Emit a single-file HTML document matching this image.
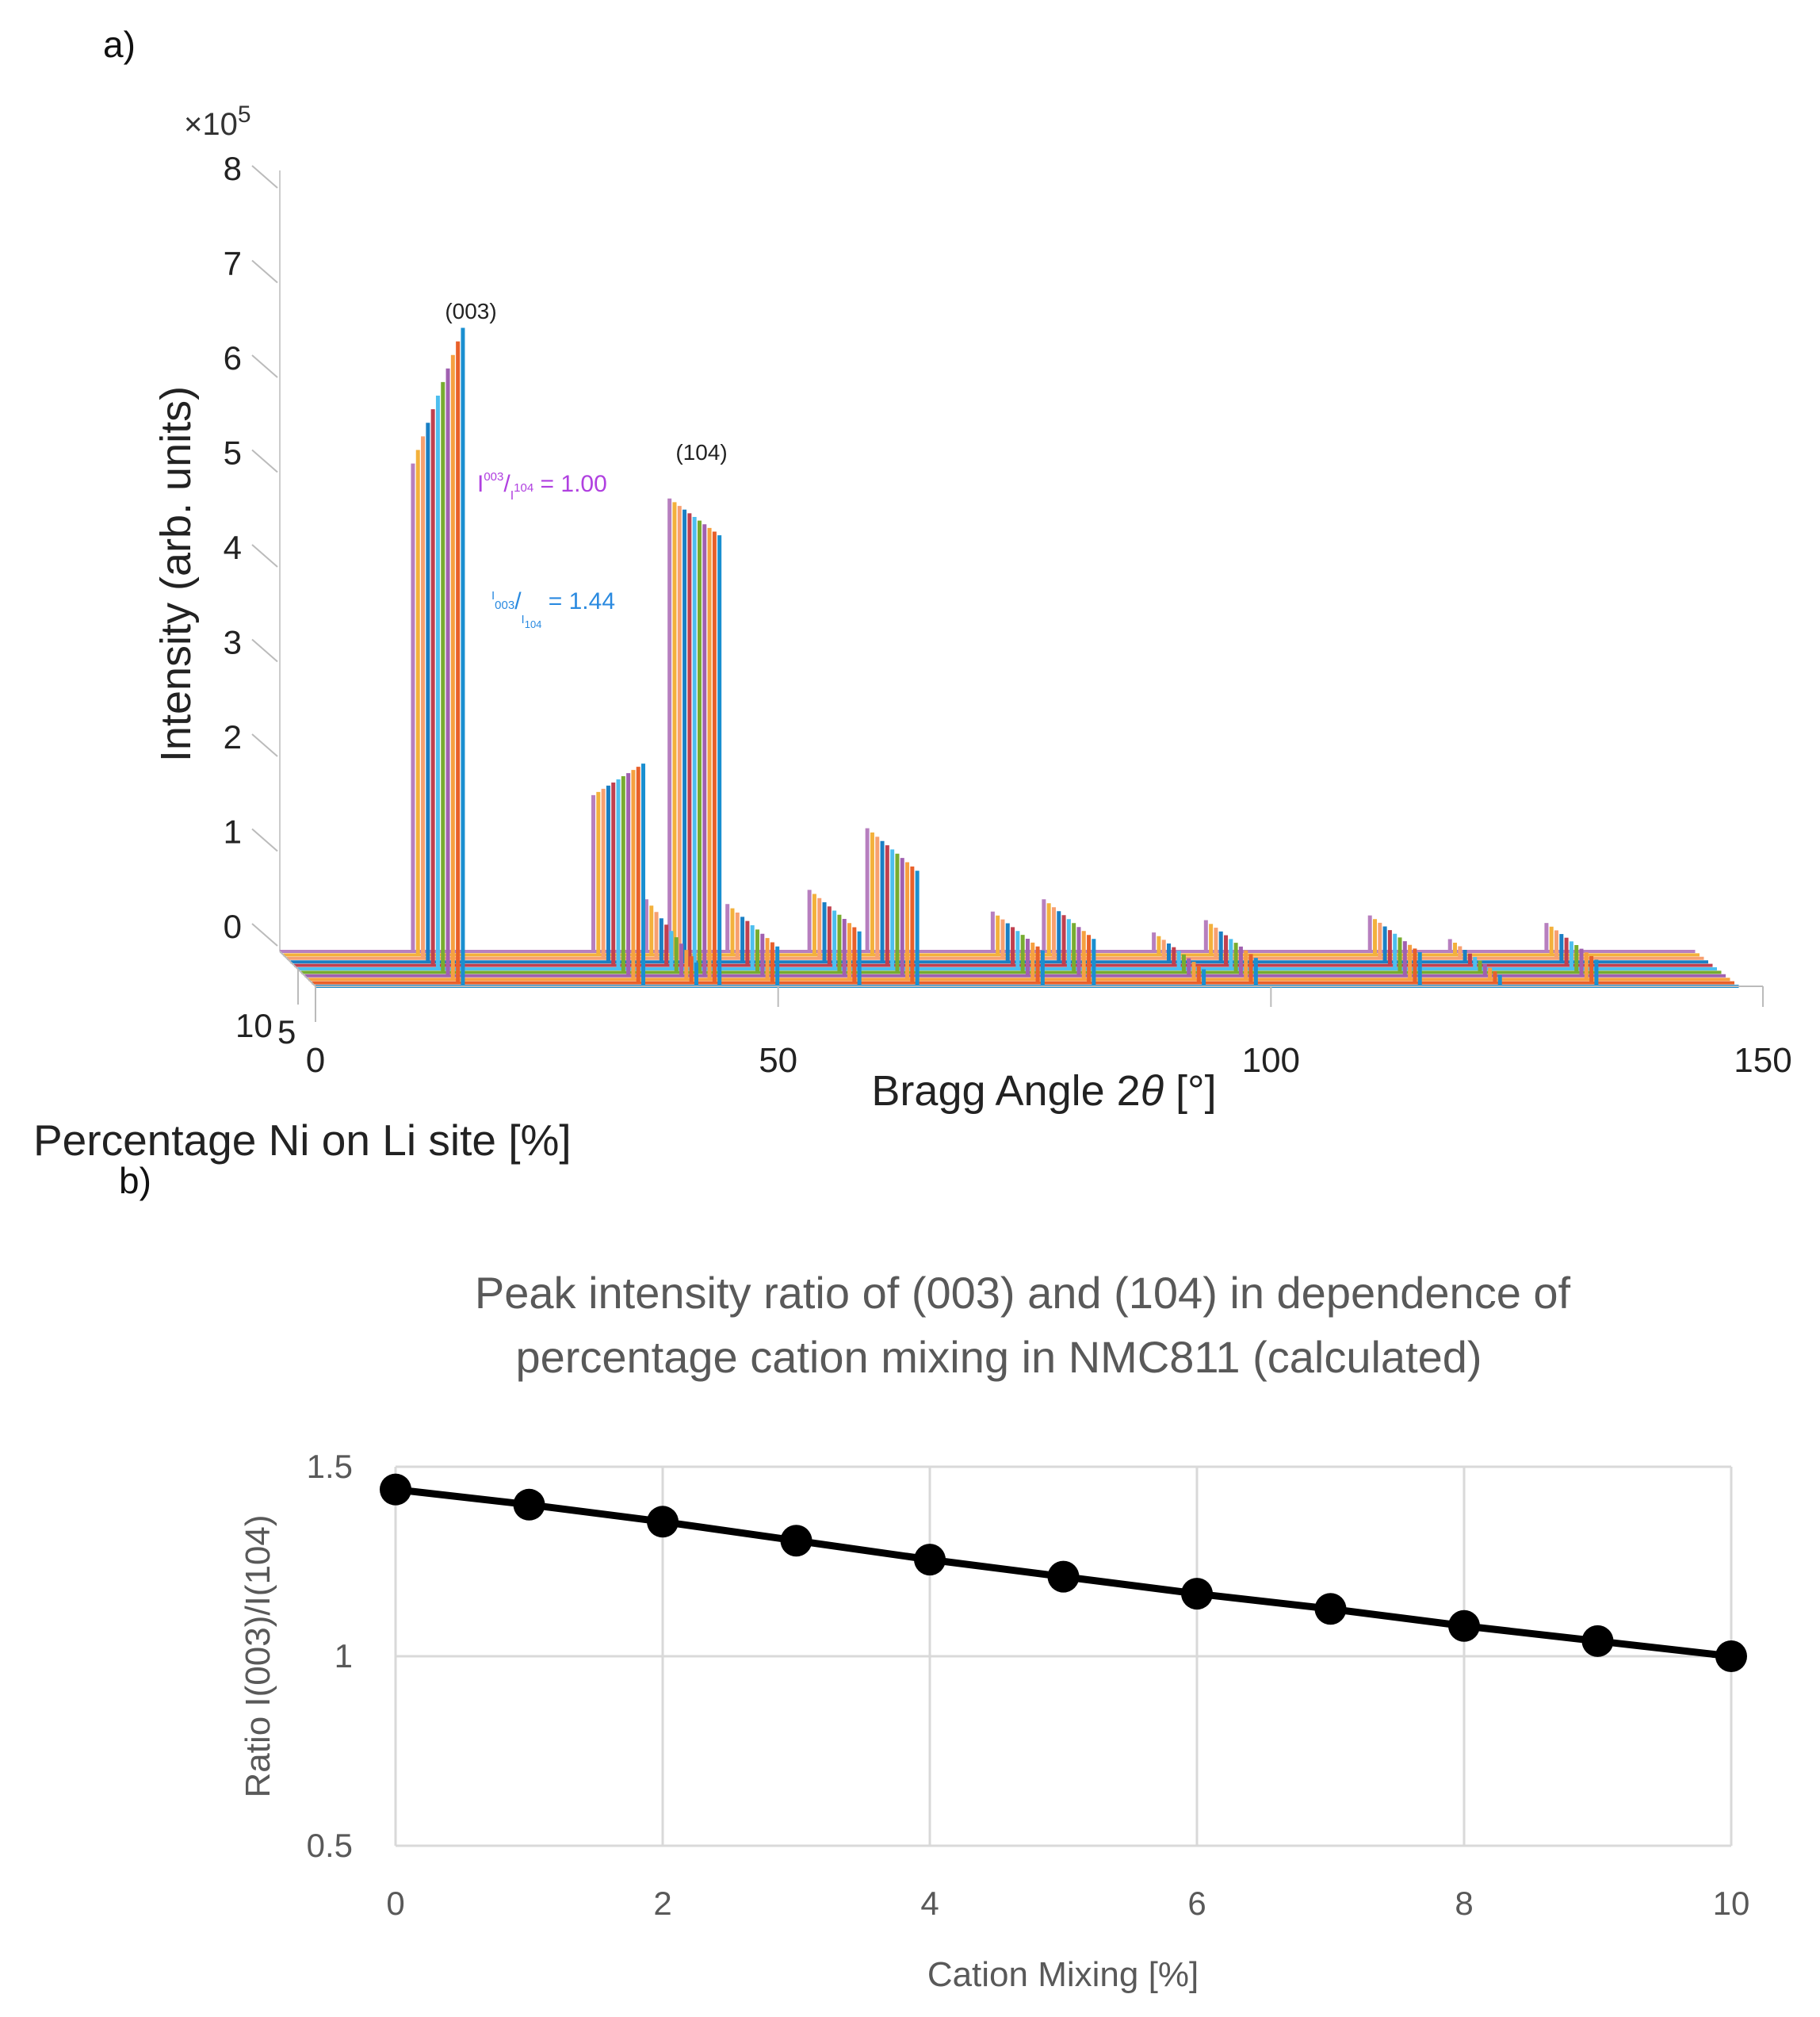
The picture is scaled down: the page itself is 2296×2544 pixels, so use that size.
<!DOCTYPE html>
<html><head><meta charset="utf-8"><style>
html,body{margin:0;padding:0;background:#fff;}
svg{display:block;}
</style></head><body>
<svg id="fig" width="2296" height="2544" viewBox="0 0 2296 2544" xmlns="http://www.w3.org/2000/svg">
<g font-family="Liberation Sans, sans-serif">
<text x="130" y="72" font-size="46" fill="#111">a)</text>
<text x="150" y="1505" font-size="46" fill="#111">b)</text>
</g>
<g id="waterfall"></g>
<g id="ratio"></g>
</svg>
<script>
// ---------- Panel a data ----------
const traceColors = ['#b77fbf','#f3b13c','#f7a070','#1a7fc4','#c0404f','#4dbeee','#77ac30','#a060b0','#f6a040','#e8602a','#1a8fd0'];
const peakAngles = [13.8, 32.5, 38.0, 40.4, 46.4, 54.9, 60.9, 73.9, 79.2, 90.6, 96.0, 113.0, 121.3, 131.3];
const peakHeightBack = [5.15, 1.65, 0.55, 4.78, 0.5, 0.65, 1.3, 0.42, 0.55, 0.2, 0.33, 0.38, 0.13, 0.3];
const peakHeightFront = [6.95, 2.35, 0.25, 4.76, 0.42, 0.58, 1.22, 0.38, 0.5, 0.18, 0.3, 0.36, 0.12, 0.28];
const zTicks = [0,1,2,3,4,5,6,7,8];
const xTicks = [0,50,100,150];
const NS = 'http://www.w3.org/2000/svg';
function mk(tag, attrs, parent){const e=document.createElementNS(NS,tag);for(const k in attrs)e.setAttribute(k,attrs[k]);parent.appendChild(e);return e;}

const wf = document.getElementById('waterfall');
const nTr = traceColors.length;
const backX0 = 353, backBase = 1200, pxPerDeg = 12.17, pxPerUnit = 119.5;
const trDx = 4.5, trDy = 4.4, spikeDx = 6.3;
function ax(a, i){return backX0 + a*pxPerDeg + i*trDx;}
function zy(v, i){return backBase + i*trDy - v*pxPerUnit;}

let zl = mk('line',{x1:353,y1:215,x2:353,y2:1200,stroke:'#ccc','stroke-width':2},wf);


zTicks.forEach(t=>{
  const y = zy(t,0)-15;
  const tk = mk('line',{x1:318,y1:y-20,x2:350,y2:y+8,stroke:'#bbb','stroke-width':2},wf);
  
  
  const tx = mk('text',{x:305,y:y-2,'font-size':42,'text-anchor':'end',fill:'#222','font-family':'Liberation Sans, sans-serif'},wf);
  tx.textContent = t;
  
  
});
const mul = mk('text',{x:232,y:170,'font-size':40,fill:'#333','font-family':'Liberation Sans, sans-serif'},wf);
mul.innerHTML = '×10<tspan dy="-16" font-size="30">5</tspan>';



for(let i=0;i<nTr;i++){
  const c = traceColors[i];
  const f = i/(nTr-1);
  const bl = mk('line',{x1:ax(0,i),y1:zy(0,i),x2:ax(150,i)-40+i*1,y2:zy(0,i),stroke:c,'stroke-width':4},wf);
  
  
  peakAngles.forEach((a,k)=>{
    const h = peakHeightBack[k] + (peakHeightFront[k]-peakHeightBack[k])*f;
    const x = backX0 + a*pxPerDeg + i*spikeDx;
    const sp = mk('line',{x1:x,y1:zy(0,i),x2:x,y2:zy(h,i),stroke:c,'stroke-width':5},wf);
    
    
  });
}
const fa = mk('line',{x1:398,y1:1244,x2:2224,y2:1244,stroke:'#bbb','stroke-width':2},wf);


const da = mk('line',{x1:353,y1:1200,x2:398,y2:1244,stroke:'#bbb','stroke-width':2},wf);


[[376,1222],[398,1244]].forEach(p=>{
  const t = mk('line',{x1:p[0],y1:p[1],x2:p[0],y2:p[1]+45,stroke:'#bbb','stroke-width':2},wf);
  
  
});
xTicks.forEach(t=>{
  const x = 398 + t*(2224-398)/150 - (t===50?25:(t===100?12:0));
  const tk = mk('line',{x1:x,y1:1244,x2:x,y2:1270,stroke:'#bbb','stroke-width':2},wf);
  
  
  const tx = mk('text',{x:x,y:1352,'font-size':44,'text-anchor':'middle',fill:'#222','font-family':'Liberation Sans, sans-serif'},wf);
  tx.textContent = t;
  
  
});
</script>
<script>
(function(){
const wf = document.getElementById('waterfall');
function tx(x,y,s,size,col,name,anchor,extra){const e=document.createElementNS('http://www.w3.org/2000/svg','text');e.setAttribute('x',x);e.setAttribute('y',y);e.setAttribute('font-size',size);e.setAttribute('fill',col);e.setAttribute('font-family','Liberation Sans, sans-serif');if(anchor)e.setAttribute('text-anchor',anchor);if(extra)e.setAttribute('transform',extra);e.innerHTML=s;wf.appendChild(e);


return e;}
tx(297,1308,'10',42,'#222','depth-tick-label-10');
tx(350,1316,'5',42,'#222','depth-tick-label-5');
tx(1317,1394,'Bragg Angle 2<tspan font-style="italic">θ</tspan> [°]',54,'#222','x-axis-title','middle');
tx(42,1457,'Percentage Ni on Li site [%]',55,'#222','y-axis-title');
tx(240,724,'Intensity (arb. units)',54,'#222','z-axis-title','middle','rotate(-90 240 724)');
tx(594,402,'(003)',28,'#222','peak-label-003','middle');
tx(885,580,'(104)',28,'#222','peak-label-104','middle');
tx(602,620,'I<tspan dy="-14" font-size="15">003</tspan><tspan dy="14">/</tspan><tspan dy="10" font-size="16">I</tspan><tspan dy="-10" font-size="15">104</tspan> = 1.00',30,'#b040e0','ratio-annotation-10pct');
tx(620,768,'<tspan font-size="15" dy="-12">I</tspan><tspan font-size="15" dy="12">003</tspan>/<tspan dy="18" font-size="15">I</tspan><tspan dy="6" font-size="13">104</tspan><tspan dy="-24"> = 1.44</tspan>',30,'#2a8ae0','ratio-annotation-0pct');
})();
</script>
<script>
// ---------- Panel b data ----------
const mixing = [0,1,2,3,4,5,6,7,8,9,10];
const ratios = [1.44,1.40,1.355,1.305,1.255,1.21,1.165,1.125,1.08,1.04,1.00];
const xTickVals = [0,2,4,6,8,10];
const yTickVals = [0.5,1,1.5];
(function(){
const NS='http://www.w3.org/2000/svg';
const g = document.getElementById('ratio');
function mk(tag,a){const e=document.createElementNS(NS,tag);for(const k in a)e.setAttribute(k,a[k]);g.appendChild(e);return e;}
const L=499,R=2184,T=1850,B=2328;
const xs=v=>L+(v-0)/(10-0)*(R-L);
const ys=v=>B-(v-0.5)/(1.5-0.5)*(B-T);
xTickVals.forEach(v=>{
  const l=mk('line',{x1:xs(v),y1:T,x2:xs(v),y2:B,stroke:'#d9d9d9','stroke-width':3});
  
  
  const t=mk('text',{x:xs(v),y:2415,'text-anchor':'middle','font-size':42,fill:'#595959','font-family':'Liberation Sans, sans-serif'});
  t.textContent=v;
  
  
});
yTickVals.forEach(v=>{
  const l=mk('line',{x1:L,y1:ys(v),x2:R,y2:ys(v),stroke:'#d9d9d9','stroke-width':3});
  
  
  const t=mk('text',{x:445,y:ys(v)+14,'text-anchor':'end','font-size':42,fill:'#595959','font-family':'Liberation Sans, sans-serif'});
  t.textContent=v;
  
  
});
const pts = mixing.map((m,i)=>xs(m)+','+ys(ratios[i])).join(' ');
const pl=mk('polyline',{points:pts,fill:'none',stroke:'#000','stroke-width':9});


mixing.forEach((m,i)=>{
  const c=mk('circle',{cx:xs(m),cy:ys(ratios[i]),r:20,fill:'#000'});
  
  
});
function txt(x,y,s,size,name,extra){const t=mk('text',{x:x,y:y,'text-anchor':'middle','font-size':size,fill:'#595959','font-family':'Liberation Sans, sans-serif'});if(extra)t.setAttribute('transform',extra);t.textContent=s;

}
txt(1290,1650,'Peak intensity ratio of (003) and (104) in dependence of',56,'chart-title-line1');
txt(1260,1731,'percentage cation mixing in NMC811 (calculated)',56,'chart-title-line2');
txt(1341,2505,'Cation Mixing [%]',44,'x-axis-title');
txt(340,2089,'Ratio I(003)/I(104)',44,'y-axis-title','rotate(-90 340 2089)');
})();
</script>
</body></html>
